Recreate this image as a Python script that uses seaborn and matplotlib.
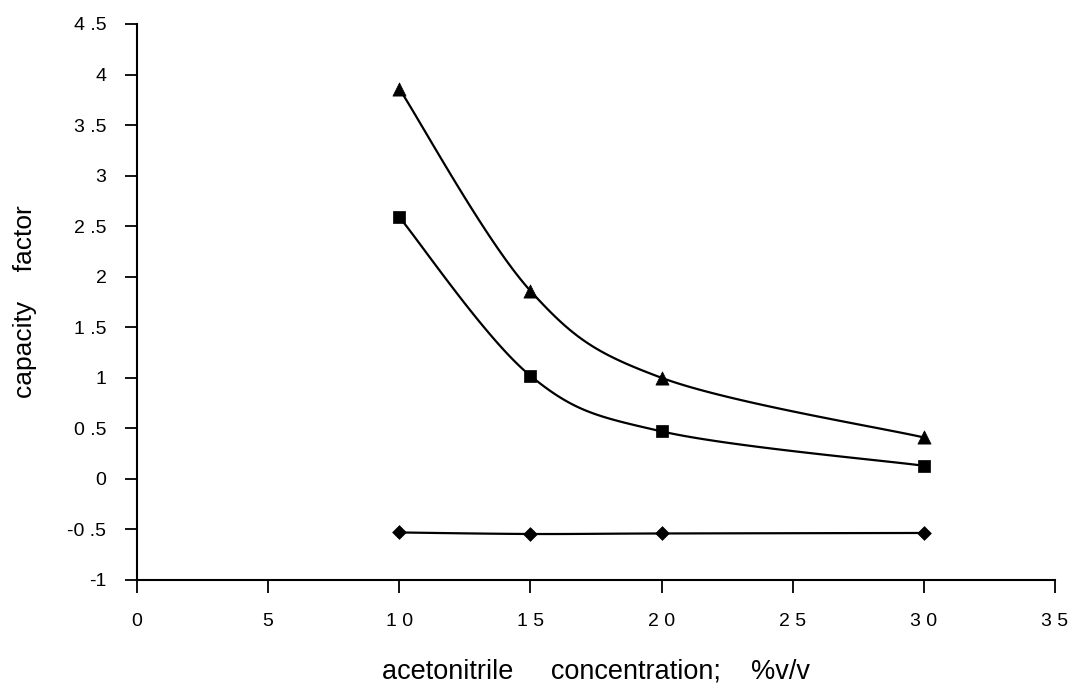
import numpy as np
import pandas as pd
import matplotlib
matplotlib.use("Agg")
import matplotlib.pyplot as plt
import seaborn as sns

# Acetonitrile concentration (%v/v) and capacity factors of the three solutes
conc = [10, 15, 20, 30]
k_triangle = [3.86, 1.86, 1.00, 0.41]
k_square = [2.59, 1.02, 0.47, 0.13]
k_diamond = [-0.53, -0.545, -0.54, -0.535]

x_ticks = [0, 5, 10, 15, 20, 25, 30, 35]
y_ticks = [-1, -0.5, 0, 0.5, 1, 1.5, 2, 2.5, 3, 3.5, 4, 4.5]


def smooth_curve(xs, ys, steps=40):
    """Bezier smoothing through the given points (Catmull-Rom style)."""
    p = np.column_stack([xs, ys]).astype(float)
    n = len(p)
    out = []
    for i in range(n - 1):
        p0 = p[i - 1] if i > 0 else p[i]
        p1 = p[i]
        p2 = p[i + 1]
        p3 = p[i + 2] if i + 2 < n else p[i + 1]
        c1 = p1 + (p2 - p0) / 6.0
        c2 = p2 - (p3 - p1) / 6.0
        t = np.linspace(0, 1, steps)[:, None]
        seg = ((1 - t) ** 3) * p1 + 3 * ((1 - t) ** 2) * t * c1 \
            + 3 * (1 - t) * (t ** 2) * c2 + (t ** 3) * p2
        out.append(seg if i == 0 else seg[1:])
    out = np.vstack(out)
    return out[:, 0], out[:, 1]


sns.set_theme(style="white")
plt.rcParams["font.family"] = ["Liberation Sans", "DejaVu Sans"]

fig = plt.figure(figsize=(10.72, 6.95), dpi=100)
ax = fig.add_axes([0.1278, 0.1655, 0.8563, 0.80])

series = [
    (k_triangle, "^", 9.5),
    (k_square, "s", 8),
    (k_diamond, "D", 7),
]
for vals, marker, ms in series:
    sx, sy = smooth_curve(conc, vals)
    curve = pd.DataFrame({"x": sx, "y": sy})
    sns.lineplot(data=curve, x="x", y="y", ax=ax, color="black",
                 linewidth=1.6, sort=False, estimator=None)
    pts = pd.DataFrame({"x": conc, "y": vals})
    sns.scatterplot(data=pts, x="x", y="y", ax=ax, marker=marker,
                    s=ms ** 2, color="black", edgecolor="black",
                    linewidth=0.5, zorder=3)

ax.set_xlim(0, 35)
ax.set_ylim(-1, 4.5)
ax.set_xticks(x_ticks)
ax.set_yticks(y_ticks)
ax.set_xticklabels([" ".join(str(v)) for v in x_ticks])
ax.set_yticklabels([("%g" % v).replace(".", " .") for v in y_ticks])

for side in ("top", "right"):
    ax.spines[side].set_visible(False)
for side in ("left", "bottom"):
    ax.spines[side].set_color("black")
    ax.spines[side].set_linewidth(1.5)

ax.tick_params(axis="y", direction="out", length=9, width=1.3,
               pad=13, labelsize=14, colors="black", left=True)
ax.tick_params(axis="x", direction="out", length=9, width=1.3,
               pad=15, labelsize=14, colors="black", bottom=True)

ax.set_xlabel("acetonitrile     concentration;    %v/v", fontsize=19.5,
              labelpad=20, color="black")
ax.set_ylabel("capacity    factor", fontsize=19, labelpad=22,
              color="black")

fig.savefig("out.png", dpi=100, facecolor="white")
